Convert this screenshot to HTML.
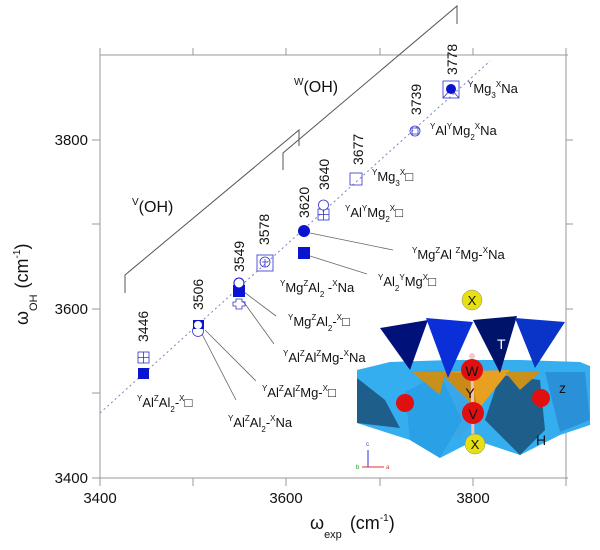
<!DOCTYPE html>
<html><head><meta charset="utf-8"><style>
html,body{margin:0;padding:0;background:#fff;}
svg{display:block;font-family:"Liberation Sans",Arial,sans-serif;}
</style></head><body>
<svg width="600" height="550" viewBox="0 0 600 550" xmlns="http://www.w3.org/2000/svg">
<g stroke="#999" stroke-width="1" fill="none">
<path d="M100,55 H568 M100,55 V478 H568 M566,55 V478"/>
<path d="M100,48V55 M193,48V55 M286,48V55 M380,48V55 M473,48V55 M566,48V55"/>
<path d="M100,478V486 M193,478V486 M286,478V486 M380,478V486 M473,478V486 M566,478V486"/>
<path d="M92,140H100 M92,224H100 M92,309H100 M92,393H100 M92,478H100"/>
<path d="M566,140H573 M566,224H573 M566,309H573 M566,393H573"/>
</g>
<g font-size="15" fill="#111">
<text x="88" y="145" text-anchor="end">3800</text>
<text x="88" y="314" text-anchor="end">3600</text>
<text x="88" y="483" text-anchor="end">3400</text>
<text x="100" y="503" text-anchor="middle">3400</text>
<text x="286" y="503" text-anchor="middle">3600</text>
<text x="473" y="503" text-anchor="middle">3800</text>
</g>
<text x="310" y="529" font-size="18" fill="#111">ω<tspan font-size="11" dy="9">exp</tspan><tspan dy="-9" dx="8">(cm</tspan><tspan font-size="10" dy="-8">-1</tspan><tspan dy="8">)</tspan></text>
<text transform="translate(28,325) rotate(-90)" font-size="18" fill="#111">ω<tspan font-size="11" dy="9">OH</tspan><tspan dy="-9" dx="6">(cm</tspan><tspan font-size="10" dy="-8">-1</tspan><tspan dy="8">)</tspan></text>
<line x1="100" y1="413" x2="490" y2="61" stroke="#8080c0" stroke-width="1" stroke-dasharray="2,3"/>
<g stroke="#555" fill="none" stroke-width="1">
<path d="M125,293V275L299,130V146"/>
<path d="M283,170V153L457,6V24"/>
</g>
<text x="132" y="212" font-size="16" fill="#111"><tspan font-size="10" dy="-7">V</tspan><tspan dy="7">(OH)</tspan></text>
<text x="294" y="92" font-size="16" fill="#111"><tspan font-size="10" dy="-7">W</tspan><tspan dy="7">(OH)</tspan></text>
<g font-size="14" fill="#111">
<text transform="translate(457,75) rotate(-90)">3778</text>
<text transform="translate(421,115) rotate(-90)">3739</text>
<text transform="translate(363,165) rotate(-90)">3677</text>
<text transform="translate(329,190) rotate(-90)">3640</text>
<text transform="translate(309,218) rotate(-90)">3620</text>
<text transform="translate(269,245) rotate(-90)">3578</text>
<text transform="translate(244,272) rotate(-90)">3549</text>
<text transform="translate(203,310) rotate(-90)">3506</text>
<text transform="translate(148,342) rotate(-90)">3446</text>
</g>
<g stroke="#666" stroke-width="0.8">
<line x1="310" y1="233" x2="393" y2="250"/>
<line x1="310" y1="256" x2="367" y2="274"/>
<line x1="244" y1="292" x2="276" y2="316"/>
<line x1="243" y1="301" x2="274" y2="344"/>
<line x1="205" y1="330" x2="256" y2="381"/>
<line x1="202" y1="334" x2="236" y2="400"/>
</g>
<g stroke="#3030d0" stroke-width="0.8" fill="none">
<rect x="443" y="81" width="16" height="17"/><path d="M443,98L451,89L459,98"/>
<circle cx="415" cy="131" r="5"/><path d="M412,128h6v6h-6z"/>
<rect x="350" y="173" width="12" height="12"/>
<rect x="318" y="209" width="11" height="11"/><path d="M323.5,209v11M318,214.5h11"/><circle cx="323.5" cy="205" r="5" fill="#fff"/>
<rect x="257" y="255" width="16" height="16"/><circle cx="265" cy="262" r="5"/><path d="M262,262h6M265,259v8"/>
<path d="M236,299h6v3h3v4h-3v3h-6v-3h-3v-4h3z"/>
<circle cx="198" cy="331" r="5.5"/>
<rect x="138" y="352" width="11" height="11"/><path d="M143.5,352v11M138,357.5h11"/>
</g>
<g fill="#0a14d0">
<circle cx="451" cy="89" r="5"/>
<circle cx="304" cy="231" r="6"/>
<rect x="298" y="247" width="12" height="12"/>
<rect x="233" y="285" width="12" height="12"/>
<rect x="193" y="320" width="11" height="9"/>
<rect x="138" y="368" width="11" height="11"/>
</g>
<circle cx="239" cy="283" r="5" fill="#fff" stroke="#0a14d0"/>
<circle cx="198" cy="325" r="4" fill="#fff"/>
<g font-size="13" fill="#111">
<text x="468" y="93"><tspan font-size="8" dy="-6">Y</tspan><tspan dy="6">Mg</tspan><tspan font-size="8" dy="5">3</tspan><tspan font-size="8" dy="-11">X</tspan><tspan dy="6">Na</tspan></text>
<text x="430" y="135"><tspan font-size="8" dy="-6">Y</tspan><tspan dy="6">Al</tspan><tspan font-size="8" dy="-6">Y</tspan><tspan dy="6">Mg</tspan><tspan font-size="8" dy="5">2</tspan><tspan font-size="8" dy="-11">X</tspan><tspan dy="6">Na</tspan></text>
<text x="372" y="181"><tspan font-size="8" dy="-6">Y</tspan><tspan dy="6">Mg</tspan><tspan font-size="8" dy="5">3</tspan><tspan font-size="8" dy="-11">X</tspan><tspan dy="6">□</tspan></text>
<text x="345" y="217"><tspan font-size="8" dy="-6">Y</tspan><tspan dy="6">Al</tspan><tspan font-size="8" dy="-6">Y</tspan><tspan dy="6">Mg</tspan><tspan font-size="8" dy="5">2</tspan><tspan font-size="8" dy="-11">X</tspan><tspan dy="6">□</tspan></text>
<text x="412" y="259"><tspan font-size="8" dy="-6">Y</tspan><tspan dy="6">Mg</tspan><tspan font-size="8" dy="-6">Z</tspan><tspan dy="6">Al </tspan><tspan font-size="8" dy="-6">Z</tspan><tspan dy="6">Mg-</tspan><tspan font-size="8" dy="-6">X</tspan><tspan dy="6">Na</tspan></text>
<text x="378" y="286"><tspan font-size="8" dy="-6">Y</tspan><tspan dy="6">Al</tspan><tspan font-size="8" dy="5">2</tspan><tspan font-size="8" dy="-11">Y</tspan><tspan dy="6">Mg</tspan><tspan font-size="8" dy="-6">X</tspan><tspan dy="6">□</tspan></text>
<text x="280" y="292"><tspan font-size="8" dy="-6">Y</tspan><tspan dy="6">Mg</tspan><tspan font-size="8" dy="-6">Z</tspan><tspan dy="6">Al</tspan><tspan font-size="8" dy="5">2</tspan><tspan dy="-5"> -</tspan><tspan font-size="8" dy="-6">X</tspan><tspan dy="6">Na</tspan></text>
<text x="288" y="326"><tspan font-size="8" dy="-6">Y</tspan><tspan dy="6">Mg</tspan><tspan font-size="8" dy="-6">Z</tspan><tspan dy="6">Al</tspan><tspan font-size="8" dy="5">2</tspan><tspan dy="-5">-</tspan><tspan font-size="8" dy="-6">X</tspan><tspan dy="6">□</tspan></text>
<text x="283" y="362"><tspan font-size="8" dy="-6">Y</tspan><tspan dy="6">Al</tspan><tspan font-size="8" dy="-6">Z</tspan><tspan dy="6">Al</tspan><tspan font-size="8" dy="-6">Z</tspan><tspan dy="6">Mg-</tspan><tspan font-size="8" dy="-6">X</tspan><tspan dy="6">Na</tspan></text>
<text x="262" y="397"><tspan font-size="8" dy="-6">Y</tspan><tspan dy="6">Al</tspan><tspan font-size="8" dy="-6">Z</tspan><tspan dy="6">Al</tspan><tspan font-size="8" dy="-6">Z</tspan><tspan dy="6">Mg-</tspan><tspan font-size="8" dy="-6">X</tspan><tspan dy="6">□</tspan></text>
<text x="228" y="427"><tspan font-size="8" dy="-6">Y</tspan><tspan dy="6">Al</tspan><tspan font-size="8" dy="-6">Z</tspan><tspan dy="6">Al</tspan><tspan font-size="8" dy="5">2</tspan><tspan dy="-5">-</tspan><tspan font-size="8" dy="-6">X</tspan><tspan dy="6">Na</tspan></text>
<text x="137" y="407"><tspan font-size="8" dy="-6">Y</tspan><tspan dy="6">Al</tspan><tspan font-size="8" dy="-6">Z</tspan><tspan dy="6">Al</tspan><tspan font-size="8" dy="5">2</tspan><tspan dy="-5">-</tspan><tspan font-size="8" dy="-6">X</tspan><tspan dy="6">□</tspan></text>
</g>
<g>
<polygon points="357,370 390,362 450,360 520,360 580,362 590,366 590,425 560,435 520,455 475,440 440,458 410,440 357,423" fill="#35aef0"/>
<polygon points="357,378 385,400 400,428 357,423" fill="#1d5f8a"/>
<polygon points="420,370 470,368 480,410 460,440 420,420" fill="#3aa8e8"/>
<polygon points="500,375 540,380 545,430 520,455 485,420" fill="#1d5f8a"/>
<polygon points="405,392 440,374 462,420 440,458 410,440" fill="#2aa0e6"/>
<polygon points="545,372 585,372 590,420 560,432" fill="#2a90d8"/>
<polygon points="440,372 510,370 478,410" fill="#e8a020"/>
<polygon points="440,372 470,373 478,410" fill="#c98a18"/>
<polygon points="412,372 445,372 440,395" fill="#c9901c"/>
<polygon points="505,372 540,372 520,390" fill="#c9901c"/>
<polygon points="380,328 428,320 410,370" fill="#00127a"/>
<polygon points="426,318 473,322 448,378" fill="#0a2fd8"/>
<polygon points="473,320 517,316 500,373" fill="#00136b"/>
<polygon points="515,318 565,322 535,368" fill="#0a34c8"/>
<circle cx="472" cy="300" r="10" fill="#e6e010" stroke="#888" stroke-width="0.5"/>
<text x="472" y="305" font-size="13" text-anchor="middle" fill="#111">X</text>
<line x1="472" y1="355" x2="473" y2="445" stroke="#f0c0c0" stroke-width="3"/>
<circle cx="472" cy="356" r="3" fill="#f4c8c8"/>
<circle cx="472" cy="370" r="11" fill="#e01010"/>
<text x="472" y="376" font-size="14" text-anchor="middle" fill="#111">W</text>
<text x="470" y="398" font-size="14" text-anchor="middle" fill="#111">Y</text>
<circle cx="473" cy="413" r="11" fill="#e01010"/>
<text x="473" y="419" font-size="14" text-anchor="middle" fill="#111">V</text>
<circle cx="475" cy="444" r="10" fill="#e6e010" stroke="#888" stroke-width="0.5"/>
<text x="475" y="449" font-size="13" text-anchor="middle" fill="#111">X</text>
<circle cx="405" cy="403" r="9" fill="#e01010"/>
<circle cx="541" cy="398" r="9" fill="#e01010"/>
<text x="497" y="349" font-size="14" fill="#fff">T</text>
<text x="559" y="393" font-size="14" fill="#111">z</text>
<text x="536" y="445" font-size="14" fill="#111">H</text>
<g stroke-width="1">
<line x1="368" y1="467" x2="368" y2="450" stroke="#3030e0"/>
<line x1="362" y1="467" x2="384" y2="467" stroke="#e03030"/>
</g>
<text x="366" y="446" font-size="6" fill="#3030e0">c</text>
<text x="386" y="469" font-size="6" fill="#e03030">a</text>
<text x="356" y="469" font-size="6" fill="#209020">b</text>
</g>
</svg>
</body></html>
